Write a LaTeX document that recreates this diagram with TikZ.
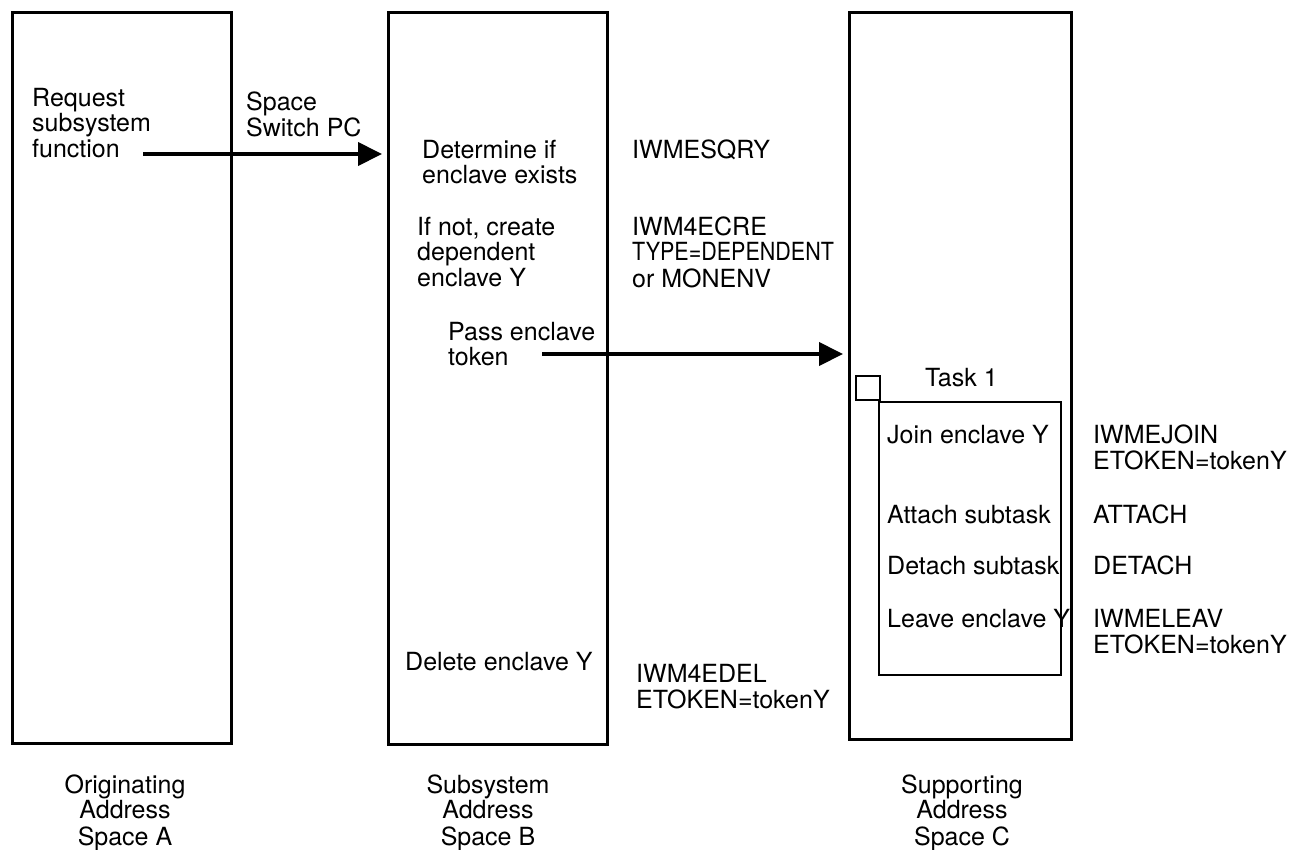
\documentclass[tikz,border=0pt]{standalone}
\usepackage{fontspec}
\setmainfont{TeX Gyre Heros}
\usetikzlibrary{arrows.meta}

% stacked lines, baseline on the first line
\newcommand{\stackL}[1]{\begin{tabular}[t]{@{}l@{}}#1\end{tabular}}
\newcommand{\stackC}[1]{\begin{tabular}[t]{@{}c@{}}#1\end{tabular}}

\begin{document}
\begin{tikzpicture}[x=1pt,y=-1pt,
  txt/.style={anchor=base west,inner sep=0pt,font=\fontsize{25}{25.5}\selectfont},
  captext/.style={anchor=base,inner sep=0pt,font=\fontsize{25}{25.5}\selectfont},
  spacebox/.style={draw,line width=3pt,rectangle,inner sep=0pt},
  taskbox/.style={draw,line width=2pt,rectangle,inner sep=0pt},
  flow/.style={line width=4pt,-{Triangle[length=24pt,width=23pt]}}]
\useasboundingbox (0,0) rectangle (1289,849);

% address spaces
\node[spacebox,minimum width=219pt,minimum height=731pt] (A) at (121.5,377.5) {};
\node[spacebox,minimum width=219pt,minimum height=732pt] (B) at (497.5,378) {};
\node[spacebox,minimum width=222pt,minimum height=727pt] (C) at (960,375.5) {};

% task 1 inside space C
\node[taskbox,minimum width=182pt,minimum height=273pt] (T) at (970,538.5) {};
\node[taskbox,minimum width=24pt,minimum height=24pt] (Tq) at (868,388) {};

% originating address space
\node[txt] (req) at (32,106) {\stackL{Request\\subsystem\\function}};
\node[txt] (pc) at (246,110) {\stackL{Space\\Switch PC}};

% subsystem address space
\node[txt] (det) at (422,158) {\stackL{Determine if\\enclave exists}};
\node[txt] (sqry) at (632,158) {IWMESQRY};
\node[txt] (cre) at (417,235) {\stackL{If not, create\\dependent\\enclave Y}};
\node[txt] (ecre) at (632,235) {\stackL{IWM4ECRE\\\scalebox{0.86}[1]{TYPE=DEPENDENT}\\or MONENV}};
\node[txt] (pass) at (448,340) {\stackL{Pass enclave\\token}};
\node[txt] (del) at (405,670) {Delete enclave Y};
\node[txt] (edel) at (636,682) {\stackL{IWM4EDEL\\ETOKEN=tokenY}};

% supporting address space
\node[txt] (t1) at (925,386) {Task 1};
\node[txt] (join) at (887,443) {Join enclave Y};
\node[txt] (ejoin) at (1093,443) {\stackL{IWMEJOIN\\ETOKEN=tokenY}};
\node[txt] (att) at (887,523) {Attach subtask};
\node[txt] (eatt) at (1093,523) {ATTACH};
\node[txt] (det2) at (887,574) {Detach subtask};
\node[txt] (edet) at (1093,574) {DETACH};
\node[txt] (leave) at (887,627) {Leave enclave Y};
\node[txt] (eleave) at (1093,627) {\stackL{IWMELEAV\\ETOKEN=tokenY}};

% captions
\node[captext] (capA) at (125,793) {\stackC{Originating\\Address\\Space A}};
\node[captext] (capB) at (488,793) {\stackC{Subsystem\\Address\\Space B}};
\node[captext] (capC) at (962,793) {\stackC{Supporting\\Address\\Space C}};

% calls between address spaces
\coordinate (s1) at (143,154);
\coordinate (s2) at (542,354);
\draw[flow,shorten >=4.5pt] (s1) -- (s1 -| B.west);
\draw[flow,shorten >=4.5pt] (s2) -- (s2 -| C.west);
\end{tikzpicture}
\end{document}
